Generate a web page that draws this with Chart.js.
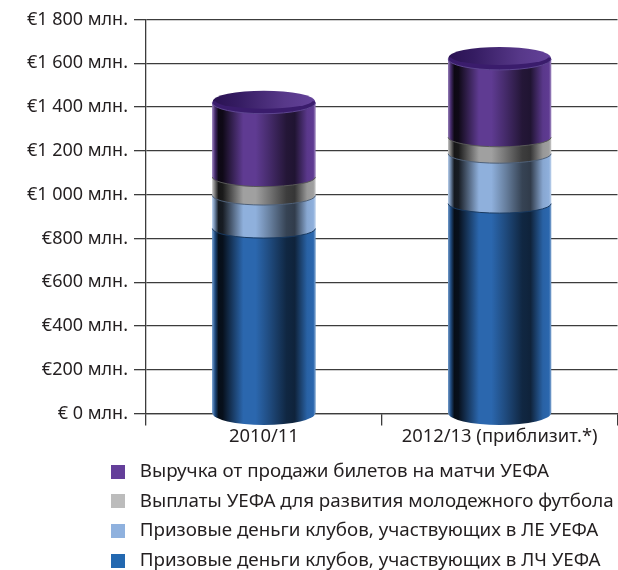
<!DOCTYPE html>
<html><head><meta charset="utf-8">
<style>html,body{margin:0;padding:0;background:#fff}canvas{display:block}</style>
<script src="https://cdn.jsdelivr.net/npm/chart.js@4"></script>
</head><body><canvas id="c" width="618" height="570"></canvas>
<script>
const categories = ['2010/11', '2012/13 (приблизит.*)'];
const ucl = [845, 959];
const uel = [151, 228];
const youth = [84, 75];
const tickets = [340, 358];
const yTickLabels = ['€ 0 млн.','€200 млн.','€400 млн.','€600 млн.','€800 млн.','€1 000 млн.','€1 200 млн.','€1 400 млн.','€1 600 млн.','€1 800 млн.'];
const seriesNames = ['Призовые деньги клубов, участвующих в ЛЧ УЕФА','Призовые деньги клубов, участвующих в ЛЕ УЕФА','Выплаты УЕФА для развития молодежного футбола','Выручка от продажи билетов на матчи УЕФА'];
const seriesColors = ['#2368b0','#8fb1de','#bcbcbc','#643f9a'];
const bodyColors = [[43,103,174],[143,176,220],[160,160,160],[95,59,146]];
const FONT = '"Noto Sans"';
const TEXT = '#231f20';
const RY = 11;

function swatch(col){const k=document.createElement('canvas');k.width=14;k.height=14;const g=k.getContext('2d');g.fillStyle=col;g.fillRect(0,0,14,14);return k;}
function shade(c,f){const m=v=>Math.min(255,Math.round(f<=1?v*f:v+(255-v)*(f-1)));return `rgb(${m(c[0])},${m(c[1])},${m(c[2])})`;}
const profile=[[0,1.35],[.025,.75],[.06,.14],[.1,.16],[.3,1],[.42,1],[.56,.72],[.72,.38],[.8,.34],[.92,.95],[.98,1],[1,1.4]];

const cylinders={id:'cylinders',afterDatasetsDraw(chart){
  const ctx=chart.ctx,n=chart.data.datasets.length;
  ctx.save();
  chart.data.labels.forEach((_,i)=>{
    for(let d=0;d<n;d++){
      const el=chart.getDatasetMeta(d).data[i];
      const L=el.x-el.width/2,W=el.width,rx=W/2,top=el.y,base=el.base;
      const g=ctx.createLinearGradient(L,0,L+W,0);
      profile.forEach(([p,f])=>g.addColorStop(p,shade(bodyColors[d],f)));
      ctx.fillStyle=g;
      ctx.beginPath();
      ctx.moveTo(L,top);ctx.lineTo(L+W,top);ctx.lineTo(L+W,base);
      ctx.ellipse(el.x,base,rx,d==0?RY+1:RY-1.5,0,0,Math.PI);
      ctx.closePath();ctx.fill();
      if(d>0){
        ctx.strokeStyle=shade(bodyColors[d-1],.55);ctx.lineWidth=1;
        ctx.beginPath();ctx.ellipse(el.x,base,rx,RY-1.5,0,0,Math.PI);ctx.stroke();
      }
      if(d==n-1){
        ctx.fillStyle='#3a1c6c';
        ctx.beginPath();ctx.ellipse(el.x,top,rx,RY,0,0,Math.PI*2);ctx.fill();
        ctx.strokeStyle='#5d4590';ctx.beginPath();ctx.ellipse(el.x,top,rx,RY,0,0,Math.PI);ctx.stroke();
        const t=ctx.createLinearGradient(L,0,L+W,0);
        t.addColorStop(0,'#2a1252');t.addColorStop(.25,'#351c62');t.addColorStop(.7,'#573889');t.addColorStop(1,'#64429a');
        ctx.fillStyle=t;
        ctx.beginPath();ctx.ellipse(el.x,top-2,rx-3,RY-3,0,0,Math.PI*2);ctx.fill();
        ctx.beginPath();ctx.ellipse(el.x,top-1.5,rx-.5,RY-.5,0,Math.PI,Math.PI*2);ctx.fill();
      }
    }
  });
  ctx.restore();
}};
const placeLegend={id:'placeLegend',afterLayout(chart){
  const l=chart.legend;l.left=95.5;l.top=451.5;
  l.right=640;l.bottom=570;
  chart.scales.x.bottom=452;
}};

new Chart(document.getElementById('c'),{
  type:'bar',
  data:{labels:categories,datasets:[ucl,uel,youth,tickets].map((v,i)=>({
    label:seriesNames[i],data:v,backgroundColor:seriesColors[i],borderWidth:0,
    categoryPercentage:1,barPercentage:.437,pointStyle:swatch(seriesColors[i])}))},
  options:{
    responsive:false,animation:false,
    layout:{padding:{top:19.5,right:.5,left:0,bottom:0}},
    plugins:{
      tooltip:{enabled:false},
      legend:{position:'bottom',align:'start',reverse:true,
        labels:{usePointStyle:true,pointStyleWidth:24,padding:10.8,color:TEXT,font:{family:FONT,size:18.8}}}
    },
    scales:{
      x:{stacked:true,offset:true,
        afterFit(s){s.height=28;},
        grid:{drawOnChartArea:false,drawTicks:true,tickLength:12,color:'#3c3c3c',lineWidth:1.3,offset:true},
        border:{color:'#3c3c3c',width:1.3},
        ticks:{color:TEXT,padding:0,maxRotation:0,font:{family:FONT,size:18.4}}},
      y:{stacked:true,min:0,max:1800,
        afterFit(s){s.width=146;},
        afterBuildTicks(s){s.ticks=yTickLabels.map((_,i)=>({value:i*200}));},
        grid:{color:'#3c3c3c',lineWidth:1.3,tickLength:12,tickColor:'#3c3c3c'},
        border:{color:'#3c3c3c',width:1.3},
        ticks:{color:TEXT,padding:6,font:{family:FONT,size:18},callback:(v,i)=>yTickLabels[i]}}
    }
  },
  plugins:[placeLegend,cylinders]
});
</script></body></html>
